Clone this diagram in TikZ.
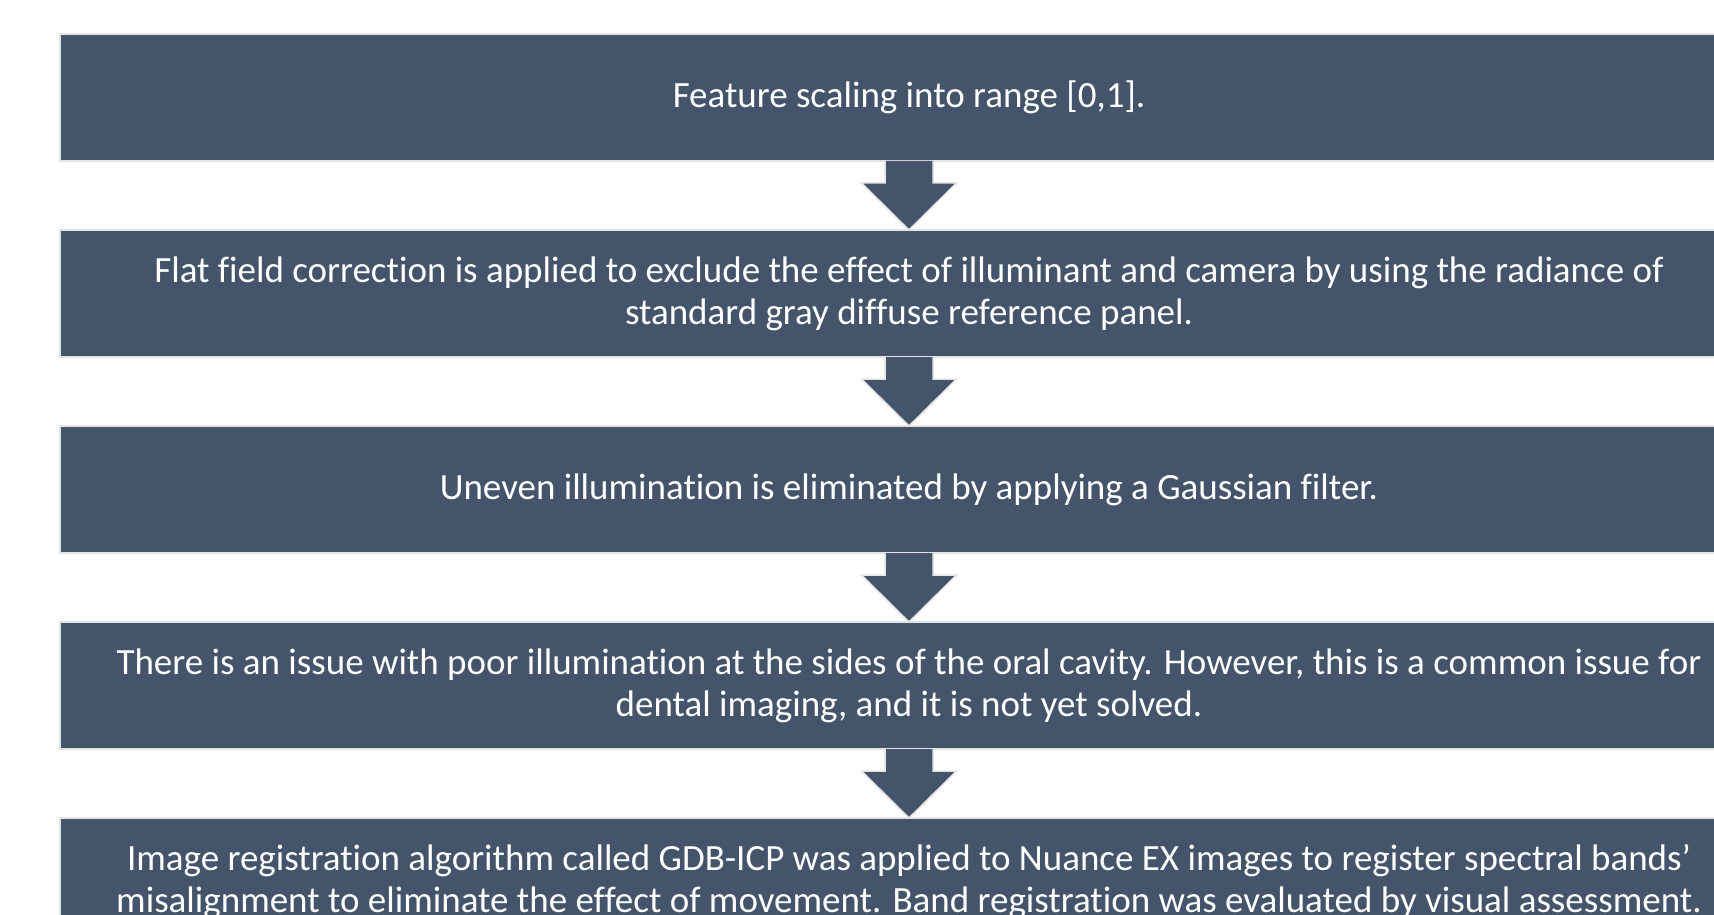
\documentclass[tikz,border=0pt]{standalone}
\usepackage{fontspec}
\setmainfont{Carlito}[Ligatures=NoCommon]
\usetikzlibrary{positioning, calc}
\usepackage{xcolor}
\definecolor{SlateBlue}{HTML}{44546A}
\definecolor{EdgeGray}{HTML}{E4E4E4}

\begin{document}
\begin{tikzpicture}[x=1pt, y=-1pt,
    stepbox/.style={fill=SlateBlue, draw=EdgeGray, line width=2pt, minimum width=1698pt, minimum height=127pt,
        inner sep=0pt, outer sep=0pt, text=white, align=center, font=\fontsize{37}{42}\selectfont},
    downarrow/.style={fill=SlateBlue, draw=EdgeGray, line width=1.5pt, line join=miter}]
        \useasboundingbox (0,0) rectangle (1714,915);
        \clip (0,0) rectangle (1714,915);
        \node[stepbox] (s1) at (909,97.5) {Feature scaling into range [0,1].};
        \node[stepbox] (s2) at (909,293.5) {Flat field correction is applied to exclude the effect of illuminant and camera by using the radiance of\\standard gray diffuse reference panel.};
        \node[stepbox] (s3) at (909,489.5) {Uneven illumination is eliminated by applying a Gaussian filter.};
        \node[stepbox] (s4) at (909,685.5) {There is an issue with poor illumination at the sides of the oral cavity. However, this is a common issue for\\dental imaging, and it is not yet solved.};
        \node[stepbox] (s5) at (909,881.5) {Image registration algorithm called GDB-ICP was applied to Nuance EX images to register spectral bands'\\misalignment to eliminate the effect of movement. Band registration was evaluated by visual assessment.};
        % block arrows between the steps
        \foreach \a/\b in {s1/s2, s2/s3, s3/s4, s4/s5}
            \filldraw[downarrow] ($(\a.south)+(-24,0)$) -- ($(\a.south)+(-24,22)$) -- ($(\a.south)+(-47.5,22)$)
                -- (\b.north) -- ($(\a.south)+(47.5,22)$) -- ($(\a.south)+(24,22)$) -- ($(\a.south)+(24,0)$);
    \end{tikzpicture}
\end{document}
